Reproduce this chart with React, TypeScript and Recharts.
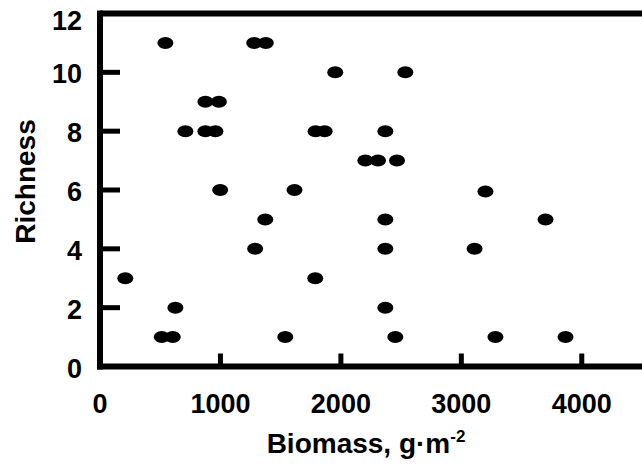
import { ScatterChart, Scatter, XAxis, YAxis, ReferenceLine } from 'recharts';

const biomass = [
  543, 1280, 1377,
  1953, 2535,
  875, 987,
  709, 875, 958, 1790, 1865, 2369,
  2203, 2308, 2466,
  998, 1615, 3200,
  1372, 2369, 3699,
  1288, 2369, 3110,
  210, 1787,
  626, 2369,
  513, 604, 1538, 2452, 3283, 3865,
];

const richness = [
  11, 11, 11,
  10, 10,
  9, 9,
  8, 8, 8, 8, 8, 8,
  7, 7, 7,
  6, 6, 5.95,
  5, 5, 5,
  4, 4, 4,
  3, 3,
  2, 2,
  1, 1, 1, 1, 1, 1,
];

const xTicks = [0, 1000, 2000, 3000, 4000];
const yTicks = [0, 2, 4, 6, 8, 10, 12];

const points = biomass.map((x, i) => ({ x, y: richness[i] }));

const FONT = '"Liberation Sans", Arial, Helvetica, sans-serif';
const X_TICK_LEN = 13;
const Y_TICK_LEN = 20;

function Dot(props: any) {
  return <ellipse cx={props.cx} cy={props.cy} rx={8} ry={6} fill="#000" />;
}

// ticks point inward, so the label position given by recharts sits inside the plot
function XTick(props: any) {
  const { x, y, payload } = props;
  return (
    <text
      x={x}
      y={y + X_TICK_LEN + 46.5}
      textAnchor="middle"
      fontFamily={FONT}
      fontWeight="bold"
      fontSize={27}
      fill="#000"
    >
      {payload.value}
    </text>
  );
}

function YTick(props: any) {
  const { x, y, payload } = props;
  const isTop = payload.value === yTicks[yTicks.length - 1];
  return (
    <text
      x={x - Y_TICK_LEN - 18}
      y={y + (isTop ? 16.5 : 11)}
      textAnchor="end"
      fontFamily={FONT}
      fontWeight="bold"
      fontSize={27}
      fill="#000"
    >
      {payload.value}
    </text>
  );
}

function XTitle(props: any) {
  const { x, y, width } = props.viewBox;
  return (
    <text
      x={x + width / 2 - 5}
      y={y + 86}
      textAnchor="middle"
      fontFamily={FONT}
      fontWeight="bold"
      fontSize={28}
      fill="#000"
    >
      Biomass, g{'\u00B7'}m
      <tspan dy={-11} fontSize={17}>-2</tspan>
    </text>
  );
}

function YTitle(props: any) {
  const { y, height } = props.viewBox;
  const cy = y + height / 2 - 8.5;
  return (
    <text
      x={35}
      y={cy}
      transform={`rotate(-90, 35, ${cy})`}
      textAnchor="middle"
      fontFamily={FONT}
      fontWeight="bold"
      fontSize={28}
      fill="#000"
    >
      Richness
    </text>
  );
}

export default function App() {
  const axisLine = { stroke: '#000', strokeWidth: 6, strokeLinecap: 'square' as const };
  const tickLine = { stroke: '#000', strokeWidth: 5 };
  return (
    <div style={{ position: 'absolute', left: 0, top: 0, background: '#fff' }}>
      <ScatterChart
        width={642}
        height={466}
        margin={{ top: 13.5, right: 0, bottom: 0, left: 0 }}
      >
        <XAxis
          type="number"
          dataKey="x"
          domain={[0, 4500]}
          ticks={xTicks}
          interval={0}
          height={99.5}
          tickSize={-X_TICK_LEN}
          tickMargin={0}
          tickLine={tickLine}
          axisLine={axisLine}
          tick={<XTick />}
          label={<XTitle />}
          allowDataOverflow
        />
        <YAxis
          type="number"
          dataKey="y"
          domain={[0, 12]}
          ticks={yTicks}
          interval={0}
          width={100}
          tickSize={-Y_TICK_LEN}
          tickMargin={0}
          tickLine={tickLine}
          axisLine={axisLine}
          tick={<YTick />}
          label={<YTitle />}
          allowDataOverflow
        />
        <ReferenceLine y={12} stroke="#000" strokeWidth={6} />
        <Scatter data={points} shape={<Dot />} isAnimationActive={false} />
      </ScatterChart>
    </div>
  );
}
